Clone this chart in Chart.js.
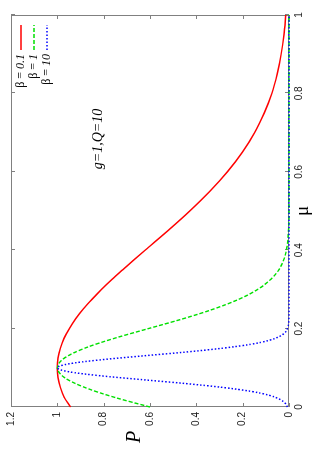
<!DOCTYPE html>
<html>
<head>
<meta charset="utf-8">
<script src="https://cdn.jsdelivr.net/npm/chart.js@4.4.0/dist/chart.umd.min.js"></script>
<style>
  html, body { margin: 0; padding: 0; background: #fff; overflow: hidden; }
  /* the chart is drawn in landscape and turned a quarter to the left */
  #wrap { position: absolute; left: 0; top: 452px; width: 452px; height: 316px;
          transform-origin: 0 0; transform: rotate(-90deg); }
</style>
</head>
<body>
<div id="wrap"><canvas id="graficoP" width="452" height="316"></canvas></div>
<script>
const muTicks = [0, 0.2, 0.4, 0.6, 0.8, 1];
const pTicks = [0, 0.2, 0.4, 0.6, 0.8, 1, 1.2];

// beta = 0.1
const muRed = [0, 0.025, 0.05, 0.075, 0.1, 0.125, 0.15, 0.175, 0.2, 0.225, 0.25, 0.275,
               0.3, 0.325, 0.35, 0.375, 0.4, 0.45, 0.5, 0.55, 0.6, 0.65, 0.7, 0.75,
               0.8, 0.85, 0.9, 0.95, 1];
const pRed = [0.943, 0.971, 0.987, 0.997, 1, 0.997, 0.987, 0.971, 0.948, 0.921, 0.888, 0.85,
              0.809, 0.765, 0.718, 0.67, 0.621, 0.522, 0.428, 0.342, 0.266, 0.201, 0.148, 0.107,
              0.074, 0.051, 0.034, 0.022, 0.014];

// beta = 1
const muGreen = [0, 0.025, 0.05, 0.075, 0.1, 0.125, 0.15, 0.175, 0.2, 0.225, 0.25, 0.275,
                 0.3, 0.325, 0.35, 0.375, 0.4, 0.45, 0.5, 0.6, 0.7, 0.8, 0.9, 1];
const pGreen = [0.6, 0.755, 0.882, 0.969, 1, 0.969, 0.882, 0.755, 0.607, 0.458, 0.325, 0.216,
                0.135, 0.08, 0.044, 0.023, 0.011, 0.002, 0, 0, 0, 0, 0, 0];

// beta = 10
const muBlue = [0, 0.01, 0.02, 0.03, 0.04, 0.05, 0.06, 0.07, 0.08, 0.09, 0.1,
                0.11, 0.12, 0.13, 0.14, 0.15, 0.16, 0.17, 0.18, 0.19, 0.2,
                0.22, 0.25, 0.5, 0.75, 1];
const pBlue = [0.007, 0.017, 0.041, 0.086, 0.165, 0.287, 0.449, 0.638, 0.819, 0.951, 1,
               0.951, 0.819, 0.638, 0.449, 0.287, 0.165, 0.086, 0.041, 0.017, 0.007,
               0.001, 0, 0, 0, 0];

const betaLabels = ['0.1', '1', '10'];
const seriesColors = ['#ff0000', '#00e000', '#0000ff'];
const seriesDash = [[], [4, 2], [1.5, 2]];
const noteText = 'g=1,Q=10';

const toPoints = (xs, ys) => xs.map((x, i) => ({ x: x, y: ys[i] }));
const fmt = v => String(Math.round(v * 10) / 10);
const serif = "'Liberation Serif', 'DejaVu Serif', serif";

// gnuplot-like box with inward ticks on all four sides
const moldura = {
    id: 'moldura',
    beforeDatasetsDraw(chart) {
        const ctx = chart.ctx;
        const a = chart.chartArea;
        const sx = chart.scales.x;
        const sy = chart.scales.y;
        ctx.save();
        ctx.strokeStyle = '#808080';
        ctx.lineWidth = 1;
        ctx.strokeRect(a.left + 0.5, a.top + 0.5, a.right - a.left - 1, a.bottom - a.top - 1);
        ctx.beginPath();
        muTicks.forEach(v => {
            const x = Math.round(sx.getPixelForValue(v)) + 0.5;
            ctx.moveTo(x, a.bottom); ctx.lineTo(x, a.bottom - 4);
            ctx.moveTo(x, a.top); ctx.lineTo(x, a.top + 4);
        });
        pTicks.forEach(v => {
            const y = Math.round(sy.getPixelForValue(v)) + 0.5;
            ctx.moveTo(a.left, y); ctx.lineTo(a.left + 4, y);
            ctx.moveTo(a.right, y); ctx.lineTo(a.right - 4, y);
        });
        ctx.stroke();
        ctx.restore();
    },
    afterDraw(chart) {
        const ctx = chart.ctx;
        const a = chart.chartArea;
        ctx.save();
        ctx.fillStyle = '#000';
        ctx.textBaseline = 'middle';

        // axis titles
        ctx.textAlign = 'center';
        ctx.font = 'italic 20px ' + serif;
        ctx.fillText('P', 15, 135);
        ctx.font = '19px ' + serif;
        ctx.fillText('\u03bc', (a.left + a.right) / 2, 303);

        // annotation
        ctx.font = 'italic 14px ' + serif;
        ctx.fillText(noteText, 313, 98);

        // legend
        betaLabels.forEach((lab, i) => {
            const y = 21 + i * 13;
            ctx.font = '12px ' + serif;
            const head = '\u03b2 = ';
            const w1 = ctx.measureText(head).width;
            ctx.font = 'italic 12px ' + serif;
            const w2 = ctx.measureText(lab).width;
            const x0 = 398 - w1 - w2;
            ctx.textAlign = 'left';
            ctx.font = '12px ' + serif;
            ctx.fillText(head, x0, y);
            ctx.font = 'italic 12px ' + serif;
            ctx.fillText(lab, x0 + w1, y);

            ctx.strokeStyle = seriesColors[i];
            ctx.lineWidth = 1.5;
            ctx.setLineDash(seriesDash[i]);
            ctx.beginPath();
            ctx.moveTo(402, y);
            ctx.lineTo(427, y);
            ctx.stroke();
        });
        ctx.restore();
    }
};

const tickFont = { family: "'Liberation Sans', Arial, sans-serif", size: 10 };

const config = {
    type: 'line',
    data: {
        datasets: [{
            label: '\u03b2 = 0.1',
            data: toPoints(muRed, pRed),
            borderColor: seriesColors[0],
            borderWidth: 1.5,
            borderDash: seriesDash[0],
            order: 2
        }, {
            label: '\u03b2 = 1',
            data: toPoints(muGreen, pGreen),
            borderColor: seriesColors[1],
            borderWidth: 1.4,
            borderDash: seriesDash[1],
            order: 1
        }, {
            label: '\u03b2 = 10',
            data: toPoints(muBlue, pBlue),
            borderColor: seriesColors[2],
            borderWidth: 1.5,
            borderDash: seriesDash[2],
            order: 0
        }]
    },
    options: {
        responsive: false,
        animation: false,
        devicePixelRatio: 1,
        parsing: false,
        datasets: {
            line: { pointRadius: 0, cubicInterpolationMode: 'monotone', fill: false, clip: false }
        },
        layout: { padding: { top: 11, right: 15, left: 0, bottom: 0 } },
        plugins: { legend: { display: false }, tooltip: { enabled: false } },
        scales: {
            x: {
                type: 'linear',
                min: 0,
                max: 1,
                afterBuildTicks: s => { s.ticks = muTicks.map(v => ({ value: v })); },
                afterFit: s => { s.height = 27; },
                grid: { display: false, drawTicks: false },
                border: { display: false },
                ticks: { font: tickFont, color: '#222', padding: 4, maxRotation: 0, callback: v => fmt(v) }
            },
            y: {
                type: 'linear',
                min: 0,
                max: 1.2,
                afterBuildTicks: s => { s.ticks = pTicks.map(v => ({ value: v })); },
                afterFit: s => { s.width = 45; },
                grid: { display: false, drawTicks: false },
                border: { display: false },
                ticks: { font: tickFont, color: '#222', padding: 5, callback: v => fmt(v) }
            }
        }
    },
    plugins: [moldura]
};

const graficoP = new Chart(document.getElementById('graficoP'), config);
</script>
</body>
</html>
